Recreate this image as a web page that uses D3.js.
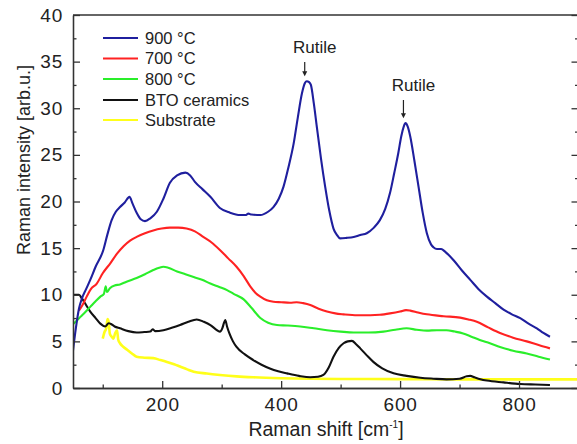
<!DOCTYPE html>
<html><head><meta charset="utf-8">
<script src="https://cdn.jsdelivr.net/npm/d3@7/dist/d3.min.js"></script>
<style>body{margin:0;background:#fff}svg{display:block;font-family:"Liberation Sans",Arial,sans-serif}</style>
</head><body><svg id="c" width="577" height="444"></svg>
<script>
// ---- data: [Raman shift (cm^-1), intensity (arb.u.)] ----
const s900 = [[50,4.0],[55,6.5],[60,8.5],[65,9.6],[72,10.6],[79,11.6],[88,13],[101,14.8],[108,16.5],[115,18],[122,18.9],[129,19.4],[137,19.9],[145,20.5],[150,19.8],[157,18.8],[164,18.1],[171,17.9],[180,18.2],[191,18.9],[202,20.3],[213,22],[225,22.8],[239,23.1],[247,22.8],[255,22.1],[268,21.3],[281,20.5],[297,19.3],[314,18.8],[331,18.55],[340,18.55],[345,18.7],[350,18.6],[365,18.55],[378,18.9],[387,19.4],[396,20.3],[404,21.6],[412,23.6],[421,26.2],[428,29],[435,31.6],[440,32.7],[443,32.9],[447,32.8],[450,32.5],[455,30.5],[460,28],[467,24.6],[474,21.6],[481,19],[488,17.1],[494,16.4],[499,16.05],[510,16.1],[522,16.2],[533,16.4],[544,16.6],[556,17.2],[566,18],[575,19.2],[583,20.9],[590,23],[597,25.2],[602,27],[606,28],[609,28.4],[613,28],[617,27],[624,24.4],[631,21.6],[638,18.8],[645,16.6],[652,15.4],[656,15.1],[662,14.9],[669,14.9],[676,14.6],[690,13.7],[704,12.6],[718,11.6],[732,10.6],[746,9.8],[760,9.1],[774,8.4],[788,7.9],[802,7.5],[816,6.9],[830,6.4],[841,5.9],[852,5.5]];
const s700 = [[60,8.3],[66,8.9],[73,9.8],[80,10.6],[90,11.2],[100,12.3],[113,13.4],[124,14.4],[135,15.2],[146,15.8],[157,16.2],[171,16.6],[185,16.9],[199,17.1],[213,17.2],[227,17.2],[241,17.1],[255,16.8],[269,16.2],[283,15.6],[297,14.8],[311,13.9],[325,13],[337,12],[348,10.9],[357,10.2],[365,9.8],[376,9.4],[387,9.25],[400,9.2],[415,9.15],[426,9.2],[437,9.1],[449,8.9],[463,8.5],[477,8.2],[491,8.0],[505,7.9],[528,7.8],[550,7.8],[566,7.85],[583,8.0],[600,8.2],[610,8.35],[617,8.3],[630,8.1],[645,7.9],[673,7.7],[701,7.55],[715,7.35],[729,7.1],[748,6.5],[768,5.9],[790,5.4],[813,5.0],[833,4.6],[852,4.25]];
const s800 = [[51,6.9],[56,7.2],[62,7.6],[70,8.1],[79,8.7],[88,9.3],[96,9.8],[102,10.1],[105,10.9],[107,10.3],[112,10.7],[120,11],[129,11.1],[140,11.4],[157,11.8],[171,12.2],[185,12.65],[195,12.9],[202,13.0],[210,12.9],[225,12.5],[239,12.2],[253,11.9],[267,11.6],[281,11.2],[295,10.85],[309,10.5],[320,10.1],[337,9.5],[350,8.6],[365,7.5],[378,7.0],[393,6.75],[410,6.7],[432,6.6],[455,6.4],[477,6.2],[500,6.05],[522,5.95],[547,5.95],[572,6.05],[592,6.25],[611,6.4],[628,6.25],[645,6.15],[662,6.2],[678,6.2],[692,6.05],[706,5.85],[720,5.5],[734,5.15],[751,4.8],[768,4.4],[790,4.0],[813,3.7],[833,3.35],[852,3.05]];
const sBTO = [[50,10.0],[53,10.0],[60,10.0],[65,9.6],[72,8.9],[79,8.2],[88,7.5],[96,6.9],[104,6.6],[110,6.95],[113,6.9],[120,6.6],[129,6.4],[143,6.1],[157,5.95],[170,6.0],[180,6.05],[184,6.3],[188,6.1],[202,6.2],[216,6.45],[230,6.75],[244,7.1],[258,7.35],[270,7.1],[281,6.75],[290,6.3],[297,6.05],[301,6.4],[304,7.0],[306,7.3],[309,6.6],[313,5.85],[319,5.0],[325,4.4],[339,3.6],[353,3.0],[367,2.5],[381,2.1],[395,1.8],[410,1.57],[430,1.3],[449,1.15],[462,1.2],[471,1.4],[480,2.2],[488,3.35],[497,4.3],[505,4.8],[512,5.0],[519,5.05],[526,4.7],[533,4.25],[544,3.5],[555,2.8],[570,2.1],[589,1.57],[611,1.3],[634,1.1],[656,1.0],[678,0.93],[700,1.0],[712,1.25],[718,1.3],[725,1.15],[735,0.95],[746,0.8],[774,0.6],[802,0.43],[827,0.37],[852,0.32]];
const sSub = [[100,5.3],[103,6.0],[106,6.4],[108,7.4],[110,7.1],[112,5.8],[115,5.5],[118,5.3],[121,5.9],[124,6.2],[126,5.2],[129,4.8],[135,4.4],[141,4.1],[149,3.7],[157,3.35],[170,3.25],[185,3.2],[197,3.0],[208,2.8],[220,2.55],[230,2.3],[242,2.0],[253,1.75],[275,1.55],[297,1.4],[325,1.25],[353,1.15],[400,1.05],[450,1.0],[500,0.97],[600,0.95],[700,0.93],[800,0.92],[900,0.92]];
const seriesNames = ["900 \u00B0C","700 \u00B0C","800 \u00B0C","BTO ceramics","Substrate"];
const seriesColors = ["#1f1f9e","#ff2222","#2aee2a","#111111","#ffff1a"];
const xMajor = [200,400,600,800], xMinor = [100,300,500,700];
const yMajor = [0,5,10,15,20,25,30,35,40], yMinor = [2.5,7.5,12.5,17.5,22.5,27.5,32.5,37.5];
const annotations = [{x:443,label:"Rutile"},{x:609,label:"Rutile"}];

const svg = d3.select("#c");
const L=73, R=578.5, T=15, B=388;
const x = d3.scaleLinear().domain([50,900]).range([L,R]);
const y = d3.scaleLinear().domain([0,40]).range([B,T]);
const ax = "#333";

svg.append("clipPath").attr("id","clip").append("rect").attr("x",L).attr("y",T).attr("width",R-L).attr("height",B-T);

const line = d3.line().x(d=>x(d[0])).y(d=>y(d[1])).curve(d3.curveMonotoneX);
const data = [s900,s700,s800,sBTO,sSub];
const drawOrder = [4,3,2,1,0];
const g = svg.append("g").attr("clip-path","url(#clip)");
drawOrder.forEach(i=>{
  g.append("path").attr("d",line(data[i])).attr("fill","none")
   .attr("stroke",seriesColors[i]).attr("stroke-width", i===4?2.6:2.1).attr("stroke-linejoin","round");
});

function styleAxis(sel){ sel.selectAll("path,line").attr("stroke",ax).attr("stroke-width",1.3);
  sel.selectAll("text").attr("fill","#222").style("font-size","19px").style("letter-spacing","0.8px")
     .style("font-family","Liberation Sans, Arial, sans-serif"); }

const gx = svg.append("g").attr("transform",`translate(0,${B})`)
  .call(d3.axisBottom(x).tickValues(xMajor).tickSize(-7).tickPadding(10).tickSizeOuter(0));
styleAxis(gx);
const gxm = svg.append("g").attr("transform",`translate(0,${B})`)
  .call(d3.axisBottom(x).tickValues(xMinor).tickSize(-3.5).tickFormat("").tickSizeOuter(0));
styleAxis(gxm);
const gy = svg.append("g").attr("transform",`translate(${L},0)`)
  .call(d3.axisLeft(y).tickValues(yMajor).tickSize(-7).tickPadding(10).tickSizeOuter(0));
styleAxis(gy);
const gym = svg.append("g").attr("transform",`translate(${L},0)`)
  .call(d3.axisLeft(y).tickValues(yMinor).tickSize(-3.5).tickFormat("").tickSizeOuter(0));
styleAxis(gym);
const gr = svg.append("g").attr("transform",`translate(${R},0)`)
  .call(d3.axisRight(y).tickValues(yMajor).tickSize(-7).tickFormat("").tickSizeOuter(0));
styleAxis(gr);
const grm = svg.append("g").attr("transform",`translate(${R},0)`)
  .call(d3.axisRight(y).tickValues(yMinor).tickSize(-3.5).tickFormat("").tickSizeOuter(0));
styleAxis(grm);
svg.append("line").attr("x1",L).attr("x2",R).attr("y1",T).attr("y2",T).attr("stroke",ax).attr("stroke-width",1.3);

// axis titles
const xt = svg.append("text").attr("x",326).attr("y",436).attr("text-anchor","middle")
  .attr("fill","#222").style("font-size","19.5px");
xt.append("tspan").text("Raman shift [cm");
xt.append("tspan").attr("dy",-8).style("font-size","10px").text("-1");
xt.append("tspan").attr("dy",8).text("]");
svg.append("text").attr("transform","translate(30,160) rotate(-90)").attr("text-anchor","middle")
  .attr("fill","#222").style("font-size","18px").text("Raman intensity [arb.u.]");

// legend
const legY = [38,58.5,79,100,120];
seriesNames.forEach((n,i)=>{
  svg.append("line").attr("x1",103).attr("x2",138).attr("y1",legY[i]).attr("y2",legY[i])
    .attr("stroke",seriesColors[i]).attr("stroke-width",2.2);
  svg.append("text").attr("x",145).attr("y",legY[i]).attr("dy","0.36em").attr("fill","#222")
    .style("font-size","16.5px").text(n);
});

// annotations
const annLabelY=[47,85];
annotations.forEach((a,i)=>{
  const px = x(a.x)-2, peak = y(s900.find(d=>d[0]===a.x)[1]);
  svg.append("text").attr("x",px+10).attr("y",annLabelY[i]).attr("dy","0.36em").attr("text-anchor","middle")
    .attr("fill","#222").style("font-size","17px").text(a.label);
  svg.append("line").attr("x1",px).attr("x2",px).attr("y1",annLabelY[i]+15).attr("y2",peak-8)
    .attr("stroke","#222").attr("stroke-width",1.2);
  svg.append("path").attr("d",`M${px-2.5},${peak-10}L${px+2.5},${peak-10}L${px},${peak-5}Z`).attr("fill","#222");
});
</script></body></html>
